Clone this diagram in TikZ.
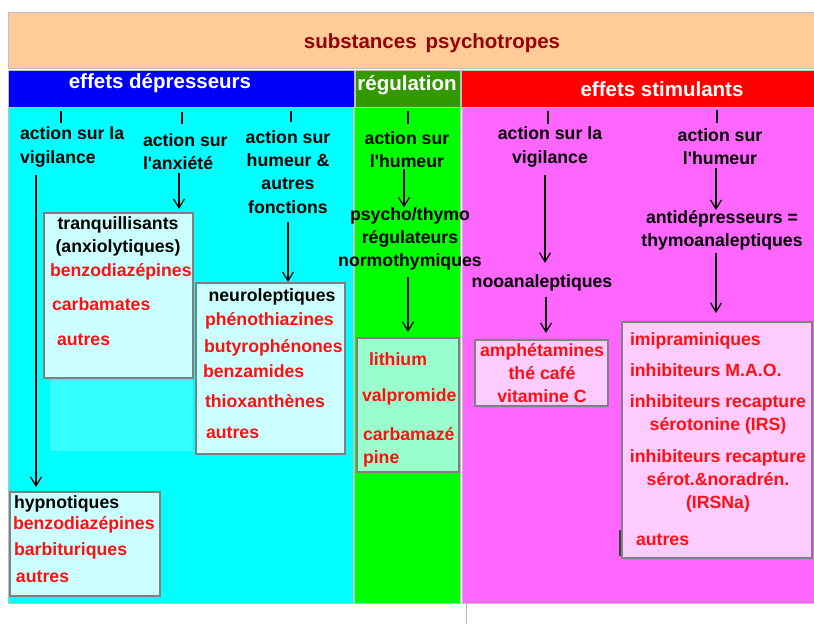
\documentclass[tikz,border=0pt]{standalone}
\usepackage{fontspec}
\newfontfamily\lsans{Liberation Sans}
\usetikzlibrary{arrows.meta}
\definecolor{peach}{HTML}{FFCC99}
\definecolor{hblue}{HTML}{0000F8}
\definecolor{hgreen}{HTML}{339900}
\definecolor{hred}{HTML}{FF0000}
\definecolor{cyanp}{HTML}{00FFFF}
\definecolor{greenp}{HTML}{00FF00}
\definecolor{magp}{HTML}{FF66FF}
\definecolor{lcyan}{HTML}{CCFFFF}
\definecolor{lcyan2}{HTML}{33FFFF}
\definecolor{mint}{HTML}{99FFCC}
\definecolor{lpink}{HTML}{FFCCFF}
\definecolor{boxgray}{HTML}{808080}
\definecolor{panelgray}{HTML}{C0C0C0}
\definecolor{drugred}{HTML}{FF1010}
\definecolor{titlered}{HTML}{990000}
\definecolor{lilac}{HTML}{C8A8C8}
\begin{document}
\begin{tikzpicture}[x=1pt,y=-1pt,
  every node/.style={inner sep=0pt, outer sep=0pt, font=\lsans\bfseries\fontsize{17.7}{23.3}\selectfont},
  txt/.style={align=center, text=black},
  txtl/.style={align=left, text=black},
  drug/.style={text=drugred},
  one/.style={text height=12.6pt, text depth=3.7pt},
  hdrtxt/.style={text=white, font=\lsans\bfseries\fontsize{20.5}{24}\selectfont},
  panel/.style={draw=panelgray, line width=1pt, anchor=north west},
  box/.style={draw=boxgray, line width=1.4pt, anchor=north west},
  arr/.style={draw=black, line width=1.2pt, -{Straight Barb[length=9pt,width=11pt,line width=1.2pt]}},
  tick/.style={line width=2.6pt}]
\useasboundingbox (0,0) rectangle (814,624);
% panels and headers
\node[panel, fill=peach, minimum width=806pt, minimum height=56pt] (ptitle) at (8,12) {};
\node[panel, fill=hblue, minimum width=346pt, minimum height=37pt] (hdep) at (8,70) {};
\node[panel, fill=hgreen, minimum width=105pt, minimum height=37pt] (hreg) at (355,70) {};
\node[panel, fill=hred, minimum width=353pt, minimum height=37pt] (hstim) at (461,70) {};
\node[panel, fill=cyanp, minimum width=345pt, minimum height=496pt] (pdep) at (8,107) {};
\node[panel, fill=greenp, minimum width=106pt, minimum height=496pt] (preg) at (354,107) {};
\node[panel, fill=magp, minimum width=352pt, minimum height=496pt] (pstim) at (462,107) {};
\draw[draw=lilac, line width=1pt] (466,603) -- (466,624);
% titles
\node[text=titlered, font=\lsans\bfseries\fontsize{20.5}{24}\selectfont] (ttl) at (432,43) {substances\hspace{9pt}psychotropes};
\node[hdrtxt] (tdep) at (160,83) {effets dépresseurs};
\node[hdrtxt] (treg) at (407,85) {régulation};
\node[hdrtxt] (tstim) at (662,89) {effets stimulants};
% ticks
\draw[tick] (61,111) -- (61,123);
\draw[tick] (182,112) -- (182,124);
\draw[tick] (291,111) -- (291,122);
\draw[tick] (408,111) -- (408,124);
\draw[tick] (548,111) -- (548,124);
\draw[tick] (717,110) -- (717,123);
% depressants
\node[txtl, anchor=west] (vig) at (20,147) {action sur la\\vigilance};
\node[txtl, anchor=west] (anx) at (143,152) {action sur\\l'anxiété};
\node[txt] (hum) at (288,172) {action sur\\humeur \&\\autres\\fonctions};
\fill[lcyan2] (50,378) rectangle (193,451);
\node[box, fill=lcyan, minimum width=149pt, minimum height=165pt] (tq) at (44,213) {};
\node[txt] (tqt) at (118,236.5) {tranquillisants\\(anxiolytiques)};
\node[drug, one, anchor=west] (tq1) at (50,272) {benzodiazépines};
\node[drug, one, anchor=west] (tq2) at (52,306) {carbamates};
\node[drug, one, anchor=west] (tq3) at (57,341) {autres};
\node[box, fill=lcyan, minimum width=149pt, minimum height=171pt] (neu) at (196,283) {};
\node[txt, one] (neut) at (272,297) {neuroleptiques};
\node[drug, one, anchor=west] (ne1) at (205,321) {phénothiazines};
\node[drug, one, anchor=west] (ne2) at (204,348) {butyrophénones};
\node[drug, one, anchor=west] (ne3) at (203,373) {benzamides};
\node[drug, one, anchor=west] (ne4) at (205,403) {thioxanthènes};
\node[drug, one, anchor=west] (ne5) at (206,434) {autres};
\node[box, fill=lcyan, minimum width=150pt, minimum height=104pt] (hyp) at (10,492) {};
\node[one, anchor=west] (hypt) at (14,504) {hypnotiques};
\node[drug, one, anchor=west] (hy1) at (13,525) {benzodiazépines};
\node[drug, one, anchor=west] (hy2) at (14,551) {barbituriques};
\node[drug, one, anchor=west] (hy3) at (16,578) {autres};
% regulation
\node[txt] (gh) at (407,150) {action sur\\l'humeur};
\node[txt] (psy) at (410,239) {psycho/thymo\\régulateurs\\normothymiques};
\node[box, fill=mint, minimum width=102pt, minimum height=134pt] (li) at (357,338) {};
\node[drug, one, anchor=west] (li1) at (369,361) {lithium};
\node[drug, one, anchor=west] (li2) at (362,397) {valpromide};
\node[drug, align=left, anchor=west] (li3) at (363,447.5) {carbamazé\\pine};
% stimulants
\node[txt] (mv) at (550,147) {action sur la\\vigilance};
\node[txt, one] (noo) at (542,283) {nooanaleptiques};
\node[box, fill=lpink, minimum width=133pt, minimum height=66pt] (amph) at (475,340) {};
\node[drug, align=center] (ampht) at (542,373) {amphétamines\\thé café\\vitamine C};
\node[txt] (mh) at (720,147) {action sur\\l'humeur};
\node[txt] (anti) at (722,230) {antidépresseurs =\\thymoanaleptiques};
\node[box, fill=lpink, minimum width=190pt, minimum height=236pt] (imi) at (622,322) {};
\node[drug, one, anchor=west] (im1) at (630,341) {imipraminiques};
\node[drug, one, anchor=west] (im2) at (630,372) {inhibiteurs M.A.O.};
\node[drug, align=center] (im3) at (718,414.5) {inhibiteurs recapture\\sérotonine (IRS)};
\node[drug, align=center] (im4) at (718,481) {inhibiteurs recapture\\sérot.\&noradrén.\\(IRSNa)};
\node[drug, one, anchor=west] (im5) at (636,541) {autres};
\draw[line width=1.3pt, draw=black!75] (620,530) -- (620,556);
% arrows
\draw[arr, shorten >=5pt] ([xshift=16pt,yshift=-8pt]vig.south west) coordinate (a1s) -- (a1s |- hyp.north);
\draw[arr, shorten >=4pt] ([xshift=36pt,yshift=-3pt]anx.south west) coordinate (a2s) -- (a2s |- tq.north);
\draw[arr, shorten >=1pt] ([yshift=-9pt]hum.south) coordinate (a3s) -- (a3s |- neu.north);
\draw[arr] ([xshift=-3pt,yshift=-1pt]gh.south) coordinate (a4s) -- (a4s |- psy.north);
\draw[arr, shorten >=6pt] ([xshift=-2pt,yshift=-6.5pt]psy.south) coordinate (a5s) -- (a5s |- li.north);
\draw[arr, shorten >=12pt] ([xshift=-5pt,yshift=-8pt]mv.south) coordinate (a6s) -- (a6s |- noo.north);
\draw[arr, shorten >=7pt] ([xshift=4pt,yshift=-6pt]noo.south) coordinate (a7s) -- (a7s |- amph.north);
\draw[arr] ([xshift=-4pt,yshift=-3pt]mh.south) coordinate (a8s) -- (a8s |- anti.north);
\draw[arr, shorten >=9pt] ([xshift=-6pt,yshift=-3pt]anti.south) coordinate (a9s) -- (a9s |- imi.north);
\end{tikzpicture}
\end{document}
